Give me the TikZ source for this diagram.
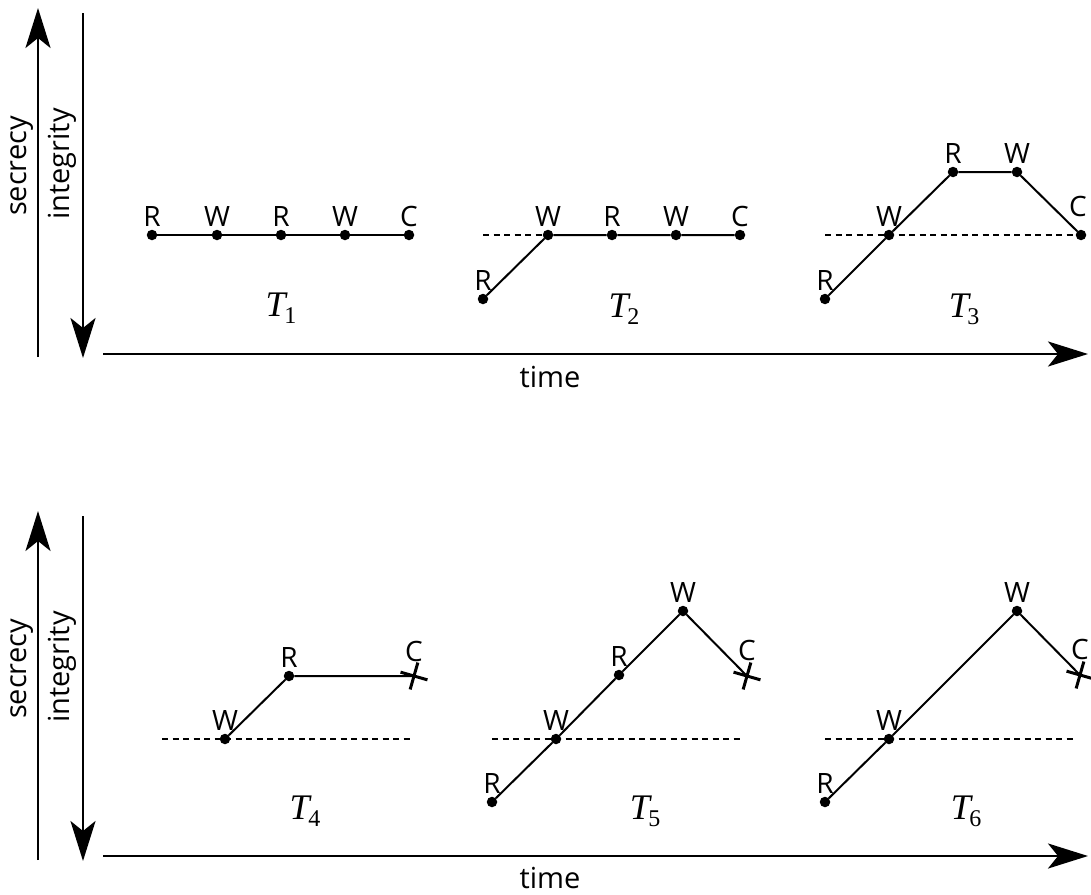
\documentclass[tikz,border=0pt]{standalone}
\usepackage{graphicx}
\usepackage{fontspec}
\setmainfont{Open Sans}
\newfontfamily\tser{Liberation Serif}
\usetikzlibrary{arrows.meta}
\newcommand{\tlab}[1]{{\tser\fontsize{36}{36}\selectfont\itshape T\kern-1.5pt\raisebox{-7pt}{\fontsize{24}{24}\selectfont\upshape #1}}}
\tikzset{
  axis/.style={line width=2.6pt,-{Stealth[length=40pt,width=25pt,inset=10pt]}},
  dot/.style={circle,fill,inner sep=0pt,minimum size=10.5pt},
  every label/.style={inner sep=1pt,font=\fontsize{28}{33}\selectfont},
  label distance=2pt,
  path/.style={line width=2pt},
  ref/.style={line width=1.4pt,dash pattern=on 6pt off 4.5pt},
  cross/.style={line width=3pt},
  tname/.style={inner sep=0pt},
  axname/.style={font=\fontsize{29}{34}\selectfont,inner sep=0pt},
}
\begin{document}
\begin{tikzpicture}[x=1pt,y=-1pt]
\useasboundingbox (0,0) rectangle (1091,894);
% ---------- top panel ----------
\coordinate (s1b) at (38,357); \coordinate (s1t) at (38,8);
\coordinate (i1t) at (83,13); \coordinate (i1b) at (83,358);
\coordinate (t1a) at (103,354); \coordinate (t1b) at (1088,354);
\draw[axis] (s1b) -- (s1t);
\draw[axis] (i1t) -- (i1b);
\draw[axis] (t1a) -- (t1b);
\node[axname,rotate=90] (sec1) at (22,166) {secrecy};
\node[axname,rotate=90] (int1) at (62,164) {integrity};
\node[axname] (time1) at (550,377) {time};
% T1
\node[dot,label=above:R] (a1) at (152,235) {};
\node[dot,label=above:W] (a2) at (217,235) {};
\node[dot,label=above:R] (a3) at (281,235) {};
\node[dot,label=above:W] (a4) at (345,235) {};
\node[dot,label=above:C] (a5) at (409,235) {};
\draw[path] (a1) -- (a2) -- (a3) -- (a4) -- (a5);
\node[tname] (T1) at (281,308) {\tlab{1}};
% T2
\node[dot,label=above:R] (b1) at (483,299) {};
\node[dot,label=above:W] (b2) at (548,235) {};
\node[dot,label=above:R] (b3) at (612,235) {};
\node[dot,label=above:W] (b4) at (676,235) {};
\node[dot,label=above:C] (b5) at (740,235) {};
\coordinate (b0) at (483,235);
\draw[ref] (b0) -- (b2);
\draw[path] (b1) -- (b2) -- (b3) -- (b4) -- (b5);
\node[tname] (T2) at (624,309) {\tlab{2}};
% T3
\node[dot,label=above:R] (c1) at (825,299) {};
\node[dot,label=above:W] (c2) at (889,235) {};
\node[dot,label=above:R] (c3) at (953,172) {};
\node[dot,label=above:W] (c4) at (1017,172) {};
\node[dot,label={[label distance=12pt,xshift=-3pt]above:C}] (c5) at (1081,235) {};
\coordinate (c0) at (825,235);
\draw[ref] (c0) -- (c5);
\draw[path] (c1) -- (c2) -- (c3) -- (c4) -- (c5);
\node[tname] (T3) at (964,309) {\tlab{3}};
% ---------- bottom panel ----------
\coordinate (s2b) at (38,860); \coordinate (s2t) at (38,511);
\coordinate (i2t) at (83,516); \coordinate (i2b) at (83,861);
\coordinate (t2a) at (103,856); \coordinate (t2b) at (1088,856);
\draw[axis] (s2b) -- (s2t);
\draw[axis] (i2t) -- (i2b);
\draw[axis] (t2a) -- (t2b);
\node[axname,rotate=90] (sec2) at (22,669) {secrecy};
\node[axname,rotate=90] (int2) at (62,667) {integrity};
\node[axname] (time2) at (550,878) {time};
% T4
\node[dot,label=above:W] (d1) at (225,739) {};
\node[dot,label=above:R] (d2) at (289,676) {};
\coordinate[label={[label distance=13pt]above:C}] (d3) at (414,676);
\coordinate (d0a) at (162,739); \coordinate (d0b) at (412,739);
\draw[ref] (d0a) -- (d0b);
\draw[path] (d1) -- (d2) -- (d3);
\draw[cross,rotate around={-16:(d3)}] ([xshift=-14pt]d3) -- ([xshift=14pt]d3);
\draw[cross,rotate around={-16:(d3)}] ([yshift=-14pt]d3) -- ([yshift=14pt]d3);
\node[tname] (T4) at (305,811) {\tlab{4}};
% T5
\node[dot,label=above:R] (e1) at (492,802) {};
\node[dot,label=above:W] (e2) at (556,739) {};
\node[dot,label=above:R] (e3) at (619,675) {};
\node[dot,label=above:W] (e4) at (683,611) {};
\coordinate[label={[label distance=14pt]above:C}] (e5) at (747,676);
\coordinate (e0a) at (492,739); \coordinate (e0b) at (743,739);
\draw[ref] (e0a) -- (e0b);
\draw[path] (e1) -- (e2) -- (e3) -- (e4) -- (e5);
\draw[cross,rotate around={-16:(e5)}] ([xshift=-14pt]e5) -- ([xshift=14pt]e5);
\draw[cross,rotate around={-16:(e5)}] ([yshift=-14pt]e5) -- ([yshift=14pt]e5);
\node[tname] (T5) at (645,811) {\tlab{5}};
% T6
\node[dot,label=above:R] (f1) at (825,802) {};
\node[dot,label=above:W] (f2) at (889,739) {};
\node[dot,label=above:W] (f3) at (1017,611) {};
\coordinate[label={[label distance=14pt]above:C}] (f4) at (1080,675);
\coordinate (f0a) at (825,739); \coordinate (f0b) at (1077,739);
\draw[ref] (f0a) -- (f0b);
\draw[path] (f1) -- (f2) -- (f3) -- (f4);
\draw[cross,rotate around={-16:(f4)}] ([xshift=-14pt]f4) -- ([xshift=14pt]f4);
\draw[cross,rotate around={-16:(f4)}] ([yshift=-14pt]f4) -- ([yshift=14pt]f4);
\node[tname] (T6) at (966,811) {\tlab{6}};
\end{tikzpicture}
\end{document}
